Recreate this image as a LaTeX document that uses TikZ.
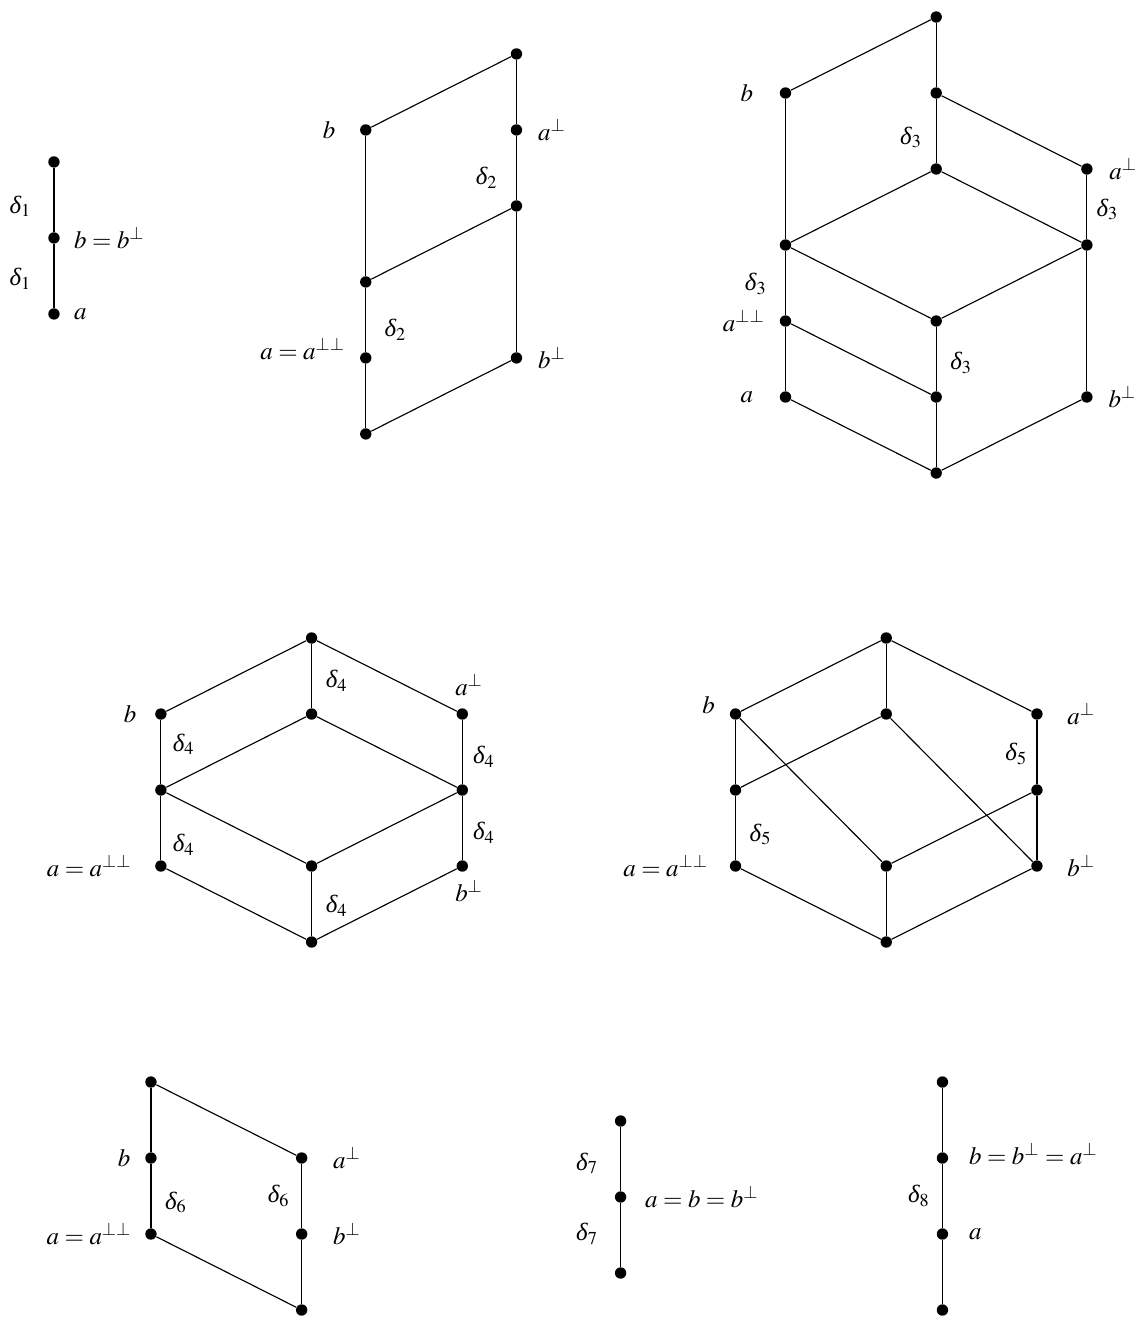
\documentclass[tikz,border=0pt,11pt]{standalone}
\usepackage{amsmath}
\usepackage{mathptmx}
\usepackage{fontspec}
\setmainfont{Liberation Serif}
\usepackage{tikz}
\usetikzlibrary{positioning}

% italic Times delta for the gap labels
\newcommand{\gapd}[1]{\text{\itshape δ}_{#1}}

\tikzset{
    line cap=round,
    line join=round,
    latticept/.style={
        circle,
        fill=black,
        inner sep=0pt,
        minimum size=5pt
    },
    link/.style={
        draw=black,
        line width=0.5pt
    },
    ptlabel/.style={
        inner sep=0pt
    },
    gaplabel/.style={
        inner sep=0pt
    }
}

\begin{document}
\begin{tikzpicture}[x=1.165cm, y=1.175cm]
\useasboundingbox (0,0) rectangle (15.186,17.342);

% === delta_1 ===
\begin{scope}[shift={(0.716,13.211)}]
\node[latticept] (d1z) at (0,0) {};
\node[latticept] (d1b) at (0,1) {};
\node[latticept] (d1t) at (0,2) {};
\draw[link] (d1t) -- (d1b) node[gaplabel, pos=.6, left=9.7pt] {$\gapd{1}$};
\draw[link] (d1b) -- (d1z) node[gaplabel, pos=.55, left=9.7pt] {$\gapd{1}$};
\node[ptlabel, right=6pt of d1b] {$b=b^{\perp}$};
\node[ptlabel, right=6pt of d1z] {$a$};
\end{scope}

% === delta_2 ===
\begin{scope}[shift={(4.854,11.632)}]
\node[latticept] (d2z) at (0,0) {};
\node[latticept] (d2a) at (0,1) {};
\node[latticept] (d2m) at (0,2) {};
\node[latticept] (d2b) at (0,4) {};
\node[latticept] (d2bp) at (2,1) {};
\node[latticept] (d2n) at (2,3) {};
\node[latticept] (d2ap) at (2,4) {};
\node[latticept] (d2t) at (2,5) {};
\draw[link] (d2b) -- (d2m);
\draw[link] (d2m) -- (d2a) node[gaplabel, pos=.65, right=8pt] {$\gapd{2}$};
\draw[link] (d2a) -- (d2z);
\draw[link] (d2t) -- (d2ap);
\draw[link] (d2ap) -- (d2n) node[gaplabel, pos=.65, left=8pt] {$\gapd{2}$};
\draw[link] (d2n) -- (d2bp);
\draw[link] (d2b) -- (d2t);
\draw[link] (d2m) -- (d2n);
\draw[link] (d2z) -- (d2bp);
\node[ptlabel, left=10.5pt of d2b] {$b$};
\node[ptlabel, left=6.2pt of d2a, yshift=4pt] {$a=a^{\perp\perp}$};
\node[ptlabel, right=6.6pt of d2ap] {$a^{\perp}$};
\node[ptlabel, right=6.6pt of d2bp] {$b^{\perp}$};
\end{scope}

% === delta_3 ===
\begin{scope}[shift={(10.424,11.118)}]
\node[latticept] (d3z) at (2,0) {};
\node[latticept] (d3a) at (0,1) {};
\node[latticept] (d3c) at (2,1) {};
\node[latticept] (d3bp) at (4,1) {};
\node[latticept] (d3app) at (0,2) {};
\node[latticept] (d3e) at (2,2) {};
\node[latticept] (d3l) at (0,3) {};
\node[latticept] (d3r) at (4,3) {};
\node[latticept] (d3f) at (2,4) {};
\node[latticept] (d3ap) at (4,4) {};
\node[latticept] (d3b) at (0,5) {};
\node[latticept] (d3g) at (2,5) {};
\node[latticept] (d3t) at (2,6) {};
\draw[link] (d3t) -- (d3b);
\draw[link] (d3t) -- (d3g);
\draw[link] (d3g) -- (d3ap);
\draw[link] (d3g) -- (d3f) node[gaplabel, pos=.6, left=6pt] {$\gapd{3}$};
\draw[link] (d3b) -- (d3l);
\draw[link] (d3l) -- (d3app) node[gaplabel, pos=.51, left=8pt] {$\gapd{3}$};
\draw[link] (d3app) -- (d3a);
\draw[link] (d3f) -- (d3l);
\draw[link] (d3f) -- (d3r);
\draw[link] (d3ap) -- (d3r) node[gaplabel, pos=.54, right=4pt] {$\gapd{3}$};
\draw[link] (d3r) -- (d3bp);
\draw[link] (d3l) -- (d3e);
\draw[link] (d3r) -- (d3e);
\draw[link] (d3e) -- (d3c) node[gaplabel, pos=.56, right=6pt] {$\gapd{3}$};
\draw[link] (d3c) -- (d3z);
\draw[link] (d3app) -- (d3c);
\draw[link] (d3a) -- (d3z);
\draw[link] (d3bp) -- (d3z);
\node[ptlabel, left=11.4pt of d3b] {$b$};
\node[ptlabel, right=7pt of d3ap] {$a^{\perp}$};
\node[ptlabel, left=6.2pt of d3app] {$a^{\perp\perp}$};
\node[ptlabel, left=11.4pt of d3a] {$a$};
\node[ptlabel, right=6.6pt of d3bp] {$b^{\perp}$};
\end{scope}

% === delta_4 ===
\begin{scope}[shift={(2.135,4.947)}]
\node[latticept] (d4z) at (2,0) {};
\node[latticept] (d4a) at (0,1) {};
\node[latticept] (d4c) at (2,1) {};
\node[latticept] (d4bp) at (4,1) {};
\node[latticept] (d4l) at (0,2) {};
\node[latticept] (d4r) at (4,2) {};
\node[latticept] (d4b) at (0,3) {};
\node[latticept] (d4f) at (2,3) {};
\node[latticept] (d4ap) at (4,3) {};
\node[latticept] (d4t) at (2,4) {};
\draw[link] (d4t) -- (d4b);
\draw[link] (d4t) -- (d4f) node[gaplabel, pos=.58, right=6pt] {$\gapd{4}$};
\draw[link] (d4t) -- (d4ap);
\draw[link] (d4b) -- (d4l) node[gaplabel, pos=.38, right=5pt] {$\gapd{4}$};
\draw[link] (d4f) -- (d4l);
\draw[link] (d4f) -- (d4r);
\draw[link] (d4ap) -- (d4r) node[gaplabel, pos=.57, right=4.5pt] {$\gapd{4}$};
\draw[link] (d4l) -- (d4a) node[gaplabel, pos=.76, right=5pt] {$\gapd{4}$};
\draw[link] (d4l) -- (d4c);
\draw[link] (d4r) -- (d4c);
\draw[link] (d4r) -- (d4bp) node[gaplabel, pos=.57, right=4.5pt] {$\gapd{4}$};
\draw[link] (d4a) -- (d4z);
\draw[link] (d4c) -- (d4z) node[gaplabel, pos=.53, right=6pt] {$\gapd{4}$};
\draw[link] (d4bp) -- (d4z);
\node[ptlabel, left=7.9pt of d4b] {$b$};
\node[ptlabel, above=5pt of d4ap, xshift=3pt] {$a^{\perp}$};
\node[ptlabel, left=10pt of d4a] {$a=a^{\perp\perp}$};
\node[ptlabel, below=3pt of d4bp, xshift=3pt] {$b^{\perp}$};
\end{scope}

% === delta_5 ===
\begin{scope}[shift={(9.761,4.947)}]
\node[latticept] (d5z) at (2,0) {};
\node[latticept] (d5a) at (0,1) {};
\node[latticept] (d5c) at (2,1) {};
\node[latticept] (d5bp) at (4,1) {};
\node[latticept] (d5l) at (0,2) {};
\node[latticept] (d5r) at (4,2) {};
\node[latticept] (d5b) at (0,3) {};
\node[latticept] (d5f) at (2,3) {};
\node[latticept] (d5ap) at (4,3) {};
\node[latticept] (d5t) at (2,4) {};
\draw[link] (d5t) -- (d5b);
\draw[link] (d5t) -- (d5f);
\draw[link] (d5t) -- (d5ap);
\draw[link] (d5b) -- (d5l);
\draw[link] (d5b) -- (d5c);
\draw[link] (d5f) -- (d5l);
\draw[link] (d5f) -- (d5bp);
\draw[link] (d5ap) -- (d5r) node[gaplabel, pos=.53, left=4pt] {$\gapd{5}$};
\draw[link] (d5l) -- (d5a) node[gaplabel, pos=.6, right=6pt] {$\gapd{5}$};
\draw[link] (d5r) -- (d5c);
\draw[link] (d5r) -- (d5bp);
\draw[link] (d5a) -- (d5z);
\draw[link] (d5c) -- (d5z);
\draw[link] (d5bp) -- (d5z);
\node[ptlabel, left=6.2pt of d5b, yshift=4pt] {$b$};
\node[ptlabel, right=10.5pt of d5ap] {$a^{\perp}$};
\node[ptlabel, left=9.2pt of d5a] {$a=a^{\perp\perp}$};
\node[ptlabel, right=10.5pt of d5bp] {$b^{\perp}$};
\end{scope}

% === delta_6 ===
\begin{scope}[shift={(2.003,0.105)}]
\node[latticept] (d6z) at (2,0) {};
\node[latticept] (d6bp) at (2,1) {};
\node[latticept] (d6ap) at (2,2) {};
\node[latticept] (d6a) at (0,1) {};
\node[latticept] (d6b) at (0,2) {};
\node[latticept] (d6t) at (0,3) {};
\draw[link] (d6t) -- (d6b);
\draw[link] (d6b) -- (d6a) node[gaplabel, pos=.6, right=6pt] {$\gapd{6}$};
\draw[link] (d6t) -- (d6ap);
\draw[link] (d6ap) -- (d6bp) node[gaplabel, pos=.5, left=5pt] {$\gapd{6}$};
\draw[link] (d6bp) -- (d6z);
\draw[link] (d6a) -- (d6z);
\node[ptlabel, left=6.2pt of d6b] {$b$};
\node[ptlabel, left=5.7pt of d6a] {$a=a^{\perp\perp}$};
\node[ptlabel, right=11pt of d6ap] {$a^{\perp}$};
\node[ptlabel, right=11pt of d6bp] {$b^{\perp}$};
\end{scope}

% === delta_7 ===
\begin{scope}[shift={(8.236,0.592)}]
\node[latticept] (d7z) at (0,0) {};
\node[latticept] (d7m) at (0,1) {};
\node[latticept] (d7t) at (0,2) {};
\draw[link] (d7t) -- (d7m) node[gaplabel, pos=.57, left=9.7pt] {$\gapd{7}$};
\draw[link] (d7m) -- (d7z) node[gaplabel, pos=.48, left=9.7pt] {$\gapd{7}$};
\node[ptlabel, right=7.9pt of d7m] {$a=b=b^{\perp}$};
\end{scope}

% === delta_8 ===
\begin{scope}[shift={(12.507,0.105)}]
\node[latticept] (d8z) at (0,0) {};
\node[latticept] (d8a) at (0,1) {};
\node[latticept] (d8b) at (0,2) {};
\node[latticept] (d8t) at (0,3) {};
\draw[link] (d8t) -- (d8b);
\draw[link] (d8b) -- (d8a) node[gaplabel, pos=.5, left=5.3pt] {$\gapd{8}$};
\draw[link] (d8a) -- (d8z);
\node[ptlabel, right=8.8pt of d8b, yshift=2pt] {$b=b^{\perp}=a^{\perp}$};
\node[ptlabel, right=8.8pt of d8a] {$a$};
\end{scope}

\end{tikzpicture}
\end{document}
